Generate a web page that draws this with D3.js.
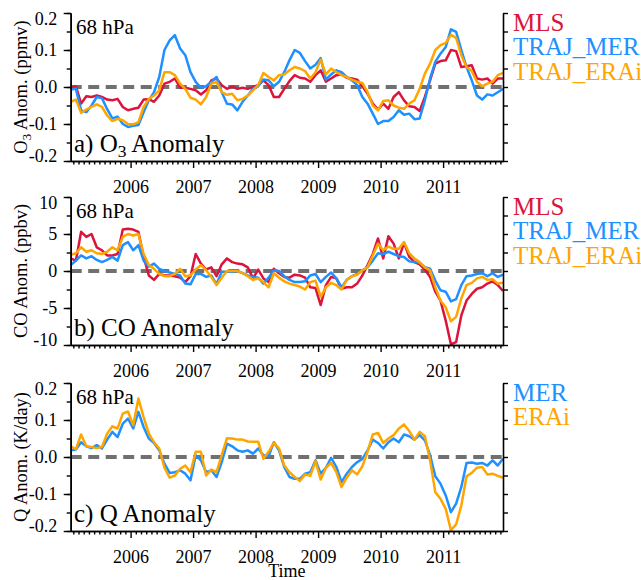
<!DOCTYPE html>
<html>
<head>
<meta charset="utf-8">
<script src="https://cdn.jsdelivr.net/npm/d3@7"></script>
<style>
  body { margin: 0; background: #fff; }
  svg { display: block; font-family: "Liberation Serif", "Times New Roman", Times, serif; }
  svg text { font-family: "Liberation Serif", "Times New Roman", Times, serif; fill: #000; }
</style>
</head>
<body>
<svg id="chart" width="641" height="580"></svg>
<script>
// Monthly anomalies at 68 hPa, January 2005 to December 2011
const startYear = 2005;
const nMonths = 84;
const months = d3.range(nMonths).map(i => startYear + (i + 0.5) / 12);
const yearTicks = [2006, 2007, 2008, 2009, 2010, 2011];

// a) O3 anomaly (ppmv)
const o3MLS = [-0.002, 0.002, -0.045, -0.025, -0.027, -0.023, -0.027, -0.034, -0.036, -0.032, -0.054, -0.063,
  -0.059, -0.056, -0.034, -0.033, -0.04, -0.023, 0.009, 0.014, 0.023, -0.002, -0.002, -0.005,
  -0.009, -0.02, -0.009, 0.018, 0.023, 0.005, -0.005, 0.002, -0.005, -0.002, -0.005, 0,
  0.005, 0.018, 0.005, -0.027, -0.027, -0.005, 0.016, 0.032, 0.025, 0.023, 0.014, 0.032,
  0.045, 0.014, 0.023, 0.032, 0.034, 0.025, 0.023, 0.02, 0.002, -0.018, -0.045, -0.061,
  -0.045, -0.059, -0.027, -0.014, -0.036, -0.052, -0.054, -0.065, -0.027, 0.018, 0.063, 0.07,
  0.072, 0.1, 0.097, 0.054, 0.056, 0.059, 0.023, 0.02, 0.023, 0.009, 0.023, 0.023];
const o3MER = [-0.007, -0.005, -0.063, -0.068, -0.05, -0.027, -0.03, -0.06, -0.085, -0.08, -0.1, -0.108,
  -0.105, -0.103, -0.068, -0.036, -0.014, 0.027, 0.1, 0.126, 0.14, 0.104, 0.086, 0.04,
  0.014, -0.002, 0.002, 0.014, 0.027, -0.014, -0.045, -0.047, -0.063, -0.04, -0.023, -0.005,
  0.002, 0.02, 0.018, 0.002, 0.014, 0.04, 0.072, 0.1, 0.092, 0.07, 0.05, 0.06,
  0.078, 0.02, 0.034, 0.045, 0.04, 0.027, 0.018, 0.005, -0.027, -0.045, -0.072, -0.1,
  -0.092, -0.092, -0.081, -0.063, -0.075, -0.072, -0.087, -0.085, -0.036, 0.023, 0.068, 0.09,
  0.108, 0.156, 0.149, 0.1, 0.054, 0.018, -0.023, -0.034, -0.02, -0.023, -0.014, -0.005];
const o3ERAi = [-0.04, -0.034, -0.07, -0.061, -0.054, -0.047, -0.054, -0.077, -0.092, -0.086, -0.09, -0.1,
  -0.101, -0.095, -0.054, -0.032, -0.023, -0.009, 0.04, 0.04, 0.032, 0.009, -0.005, -0.029,
  -0.034, -0.047, -0.027, 0.009, 0.014, -0.014, -0.021, -0.018, -0.036, -0.032, -0.023, -0.009,
  0.005, 0.038, 0.027, 0.018, 0.032, 0.034, 0.045, 0.054, 0.05, 0.043, 0.023, 0.04,
  0.074, 0.034, 0.05, 0.04, 0.032, 0.027, 0.02, 0.014, 0.011, -0.014, -0.05, -0.063,
  -0.038, -0.036, -0.05, -0.056, -0.059, -0.045, -0.036, -0.005, 0.036, 0.063, 0.1, 0.113,
  0.119, 0.141, 0.133, 0.086, 0.054, 0.043, 0.014, 0.002, 0.009, 0.014, 0.032, 0.038];

// b) CO anomaly (ppbv)
const coMLS = [1.7, 1.4, 5.3, 4.6, 5.0, 3.2, 2.8, 2.1, 2.1, 2.3, 5.6, 5.7,
  5.6, 5.3, 1.9, -0.6, -1.2, -0.4, -0.6, -0.6, -0.7, -0.9, -1.5, -0.7,
  2.3, 1.0, 0.2, 0.5, -0.7, 0.9, 1.7, 1.2, 1.0, 0.9, 0.5, -1.0,
  0.2, -1.0, -1.5, 0.3, -0.3, -0.8, -0.9, -0.5, -0.6, -0.9, -2.2, -2.3,
  -4.6, -1.9, -0.8, -1.0, -2.4, -2.2, -2.2, -1.7, -0.6, 0.8, 2.3, 4.4,
  1.7, 4.7, 3.7, 1.7, 3.8, 1.9, 1.2, 0.9, 0.2, -0.8, -2.8, -4.0,
  -6.7, -9.9, -9.6, -6.0, -4.0, -3.1, -2.4, -2.2, -1.7, -1.4, -1.9, -2.7];
const coMER = [0.8, 1.4, 2.1, 1.7, 2.0, 1.5, 1.2, 1.5, 1.9, 1.4, 3.5, 3.9,
  2.8, 3.5, 1.4, 0.6, 1.0, 0.3, 0, -0.2, -0.4, -0.6, -1.7, -1.8,
  -0.4, -0.4, -0.8, -0.6, -1.8, -0.1, -0.1, -0.1, 0, -0.3, -0.6, -0.8,
  -0.9, -1.7, -0.9, 0.1, 0, -0.7, -1.2, -1.5, -1.5, -1.4, -0.6, -0.4,
  -1.5, -0.8, -0.2, -1.0, -2.2, -1.2, -0.7, -0.4, 0.1, 0.5, 1.4, 2.4,
  2.3, 2.6, 2.3, 2.0, 1.9, 1.3, 1.2, 1.1, 0.5, 0.3, -1.3, -2.6,
  -2.8, -4.1, -3.8, -1.9, -0.7, -0.6, -0.4, -0.3, -0.7, -0.3, -0.8, -0.5];
const coERAi = [2.2, 2.4, 3.2, 2.6, 2.8, 2.4, 2.3, 2.6, 3.2, 2.8, 4.6, 5.0,
  4.8, 5.0, 2.3, 0.8, 0.3, -0.4, -0.7, -0.7, -0.4, 0.3, -0.7, -0.6,
  0.2, 0.8, 0.1, -0.8, -1.9, -0.9, 0, 0, 0, -0.3, -0.7, -1.2,
  -1.0, -1.5, -2.2, -0.3, -0.9, -1.4, -1.7, -1.9, -2.1, -2.5, -1.5, -1.3,
  -3.5, -2.2, -1.6, -1.9, -2.5, -1.2, -0.7, -0.5, 0.1, 0.5, 2.1, 3.7,
  2.8, 3.3, 3.0, 3.0, 3.9, 2.4, 1.7, 1.2, 0.5, 0.1, -2.2, -4.0,
  -4.9, -6.8, -6.2, -3.7, -1.9, -1.6, -1.0, -0.8, -1.2, -1.1, -1.7, -1.6];

// c) Q anomaly (K/day)
const qMER = [0.018, 0.02, 0.04, 0.029, 0.024, 0.032, 0.023, 0.047, 0.068, 0.054, 0.09, 0.104,
  0.077, 0.122, 0.081, 0.05, 0.038, 0.018, -0.018, -0.043, -0.041, -0.036, -0.045, -0.063,
  0.005, -0.009, -0.041, -0.036, -0.054, -0.014, 0.036, 0.029, 0.018, 0.014, 0.018, 0.009,
  0.023, 0.005, 0.002, 0.04, 0.018, -0.027, -0.054, -0.059, -0.059, -0.045, -0.041, -0.009,
  -0.045, -0.029, -0.002, -0.027, -0.068, -0.045, -0.027, -0.014, -0.005, 0.018, 0.047, 0.038,
  0.023, 0.04, 0.05, 0.04, 0.061, 0.056, 0.047, 0.059, 0.045, 0.005, -0.052, -0.072,
  -0.104, -0.149, -0.126, -0.081, -0.016, -0.015, -0.018, -0.016, -0.023, -0.009, -0.023, -0.005];
const qERAi = [0.029, 0.021, 0.061, 0.029, 0.027, 0.024, 0.027, 0.063, 0.083, 0.077, 0.117, 0.123,
  0.086, 0.158, 0.108, 0.063, 0.04, 0.023, -0.029, -0.056, -0.05, -0.032, -0.023, -0.041,
  0.014, 0.014, -0.05, -0.034, -0.041, 0.005, 0.051, 0.05, 0.047, 0.047, 0.042, 0.041,
  0.041, -0.005, 0.014, 0.039, 0.023, -0.023, -0.041, -0.054, -0.065, -0.047, -0.051, -0.011,
  -0.061, -0.029, -0.016, -0.041, -0.081, -0.056, -0.036, -0.047, -0.025, 0.014, 0.061, 0.065,
  0.038, 0.05, 0.059, 0.077, 0.088, 0.07, 0.047, 0.068, 0.056, -0.009, -0.095, -0.113,
  -0.14, -0.198, -0.182, -0.131, -0.052, -0.043, -0.029, -0.027, -0.047, -0.045, -0.051, -0.056];

// Axis tick values and labels
const o3Ticks = [-0.2, -0.1, 0, 0.1, 0.2];
const o3TickLabels = ["-0.2", "-0.1", "0.0", "0.1", "0.2"];
const coTicks = [-10, -5, 0, 5, 10];
const coTickLabels = ["-10", "-5", "0", "5", "10"];
const qTicks = [-0.2, -0.1, 0, 0.1, 0.2];
const qTickLabels = ["-0.2", "-0.1", "0.0", "0.1", "0.2"];

const COLORS = { MLS: "#DC143C", MER: "#1E90FF", ERAi: "#FFA500" };
const SERIF = '"Liberation Serif", "Times New Roman", Times, serif';

const svg = d3.select("#chart");
const X0 = 70.7, X1 = 503;

const x = d3.scaleLinear()
  .domain([months[0], months[nMonths - 1]])
  .range([X0, X1]);

const minorMonths = d3.range(1, nMonths)
  .filter(k => k % 12 !== 0)
  .map(k => startYear + k / 12);

const panels = [
  {
    top: 13, bottom: 161, domain: [-0.2, 0.2], step: 0.05,
    ticks: o3Ticks, tickLabels: o3TickLabels,
    title: [["O", 0], ["3", 1], [" Anom. (ppmv)", 0]],
    label: [["a) O", 0], ["3", 1], [" Anomaly", 0]],
    series: [
      { name: "MLS", values: o3MLS, color: COLORS.MLS },
      { name: "TRAJ_MER", values: o3MER, color: COLORS.MER },
      { name: "TRAJ_ERAi", values: o3ERAi, color: COLORS.ERAi }
    ]
  },
  {
    top: 197, bottom: 345, domain: [-10, 10], step: 2.5,
    ticks: coTicks, tickLabels: coTickLabels,
    title: [["CO Anom. (ppbv)", 0]],
    label: [["b) CO Anomaly", 0]],
    series: [
      { name: "MLS", values: coMLS, color: COLORS.MLS },
      { name: "TRAJ_MER", values: coMER, color: COLORS.MER },
      { name: "TRAJ_ERAi", values: coERAi, color: COLORS.ERAi }
    ]
  },
  {
    top: 383, bottom: 531, domain: [-0.2, 0.2], step: 0.05,
    ticks: qTicks, tickLabels: qTickLabels,
    title: [["Q Anom. (K/day)", 0]],
    label: [["c) Q Anomaly", 0]],
    series: [
      { name: "MER", values: qMER, color: COLORS.MER },
      { name: "ERAi", values: qERAi, color: COLORS.ERAi }
    ]
  }
];

// writes a run of text pieces, where flag 1 marks a subscript
function richText(sel, parts, subScale) {
  parts.forEach(([str, sub]) => {
    if (sub) {
      sel.append("tspan").attr("font-size", (subScale * 100) + "%")
        .attr("dy", "0.3em").text(str);
    } else {
      const t = sel.append("tspan").text(str);
      if (sel.selectAll("tspan").size() > 1) t.attr("dy", "-0.21em");
    }
  });
}

function styleAxis(g) {
  g.attr("font-family", SERIF).attr("font-size", null);
  g.selectAll("path.domain").attr("stroke", "#000").attr("stroke-width", 1.6);
  g.selectAll(".tick line").attr("stroke", "#000").attr("stroke-width", 1.4);
  g.selectAll(".tick text").attr("fill", "#000").attr("font-size", 18)
    .attr("font-family", SERIF);
}

panels.forEach(p => {
  const y = d3.scaleLinear().domain(p.domain).range([p.bottom, p.top]);
  const g = svg.append("g").attr("font-family", SERIF);
  const minorY = d3.range(p.domain[0], p.domain[1] + p.step / 2, p.step);

  // zero reference line
  g.append("line")
    .attr("x1", x(months[0])).attr("x2", x(months[nMonths - 1]))
    .attr("y1", y(0)).attr("y2", y(0))
    .attr("stroke", "#707070").attr("stroke-width", 4)
    .attr("stroke-dasharray", "11,6.5");

  // data lines
  const line = d3.line()
    .x((d, i) => x(months[i]))
    .y(d => y(d));
  p.series.forEach(s => {
    g.append("path").datum(s.values)
      .attr("d", line)
      .attr("fill", "none")
      .attr("stroke", s.color)
      .attr("stroke-width", 2.5)
      .attr("stroke-linejoin", "round");
  });

  // bottom axis: monthly minor ticks, labelled years
  g.append("g").attr("transform", `translate(0,${p.bottom})`)
    .call(d3.axisBottom(x).tickValues(minorMonths).tickSize(3.5).tickSizeOuter(0).tickFormat(""))
    .call(styleAxis);
  g.append("g").attr("transform", `translate(0,${p.bottom})`)
    .call(d3.axisBottom(x).tickValues(yearTicks).tickSize(7).tickSizeOuter(0)
      .tickPadding(12).tickFormat(d3.format("d")))
    .call(styleAxis);

  // left axis
  g.append("g").attr("transform", `translate(${X0},0)`)
    .call(d3.axisLeft(y).tickValues(minorY).tickSize(4).tickSizeOuter(0).tickFormat(""))
    .call(styleAxis);
  const left = g.append("g").attr("transform", `translate(${X0},0)`)
    .call(d3.axisLeft(y).tickValues(p.ticks).tickSize(7).tickSizeOuter(0).tickPadding(6.5)
      .tickFormat((d, i) => p.tickLabels[i]))
    .call(styleAxis);
  // keep the end labels inside the axis span
  left.selectAll(".tick text").attr("y", d =>
    d === p.domain[1] ? 6 : d === p.domain[0] ? -5 : 0);

  // right axis, ticks only
  g.append("g").attr("transform", `translate(${X1},0)`)
    .call(d3.axisRight(y).tickValues(minorY).tickSize(5).tickSizeOuter(0).tickFormat(""))
    .call(styleAxis);

  // y title
  const title = g.append("text")
    .attr("transform", `translate(27,${(p.top + p.bottom) / 2}) rotate(-90)`)
    .attr("text-anchor", "middle")
    .attr("font-family", SERIF)
    .attr("font-size", 18.5);
  richText(title, p.title, 0.7);

  // pressure level and panel label
  g.append("text").attr("x", 76).attr("y", p.top + 20.5)
    .attr("font-family", SERIF)
    .attr("font-size", 21).text("68 hPa");
  const lab = g.append("text").attr("x", 74).attr("y", p.bottom - 9)
    .attr("font-family", SERIF)
    .attr("font-size", 25);
  richText(lab, p.label, 0.7);

  // legend
  p.series.forEach((s, i) => {
    g.append("text")
      .attr("x", 513).attr("y", p.top + 17.5 + i * 24.6)
      .attr("font-family", SERIF)
      .attr("font-size", 25)
      .style("fill", s.color)
      .text(s.name);
  });
});

svg.append("text")
  .attr("x", (X0 + X1) / 2).attr("y", 577)
  .attr("text-anchor", "middle")
  .attr("font-family", SERIF)
  .attr("font-size", 18)
  .text("Time");
</script>
</body>
</html>
